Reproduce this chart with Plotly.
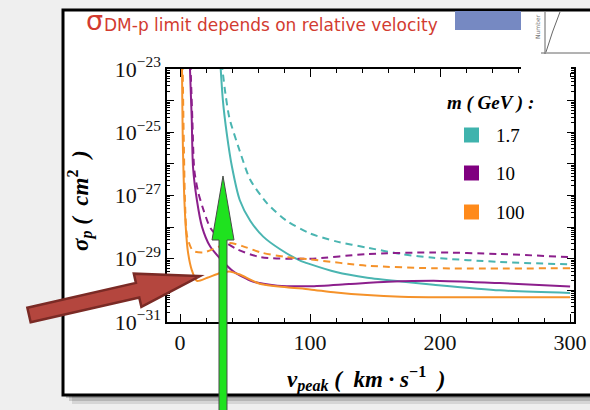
import numpy as np
import plotly.graph_objects as go

# ---------------- data ----------------
# v_peak in km/s, sigma exponents (log10 of cm^2)
teal_solid_v   = [31, 33, 36, 40, 46, 54, 64, 77, 92, 100, 120, 144, 170, 195, 246, 300]
teal_solid_lg  = [-22.8, -24.0, -25.05, -26.1, -27.15, -27.8, -28.3, -28.7, -29.05, -29.17, -29.42, -29.6, -29.72, -29.82, -30.0, -30.08]
teal_dash_v    = [32, 35, 38, 46, 54, 67, 82, 100, 120, 144, 170, 195, 246, 300]
teal_dash_lg   = [-22.8, -23.8, -24.55, -25.6, -26.5, -27.25, -27.8, -28.2, -28.45, -28.65, -28.85, -28.97, -29.1, -29.18]
purple_solid_v  = [7.5, 9, 10, 13, 17, 23, 31, 41, 56, 75, 100, 130, 160, 200, 246, 300]
purple_solid_lg = [-22.8, -24.55, -26.1, -27.15, -28.0, -28.6, -29.0, -29.4, -29.72, -29.85, -29.87, -29.8, -29.73, -29.7, -29.77, -29.88]
purple_dash_v   = [8, 9.5, 11, 14, 18, 23, 29, 44, 62, 100, 144, 195, 246, 300]
purple_dash_lg  = [-22.8, -24.6, -26.2, -26.9, -27.45, -28.0, -28.3, -28.7, -28.95, -29.0, -28.85, -28.8, -28.85, -28.95]
orange_solid_v  = [1.5, 2.3, 4, 6, 9, 13, 21, 31, 38, 46, 62, 82, 100, 120, 144, 170, 200, 300]
orange_solid_lg = [-22.8, -25.6, -27.7, -28.75, -29.35, -29.7, -29.6, -29.45, -29.4, -29.5, -29.8, -29.9, -29.97, -30.07, -30.15, -30.2, -30.22, -30.22]
orange_dash_v   = [2.0, 3.0, 4.0, 5.5, 10, 18, 28, 38, 48, 62, 82, 100, 144, 195, 300]
orange_dash_lg  = [-22.8, -25.5, -27.4, -28.3, -28.75, -28.8, -28.65, -28.5, -28.6, -28.8, -28.95, -29.02, -29.22, -29.3, -29.3]

masses = ["1.7", "10", "100"]
line_colors = ["#4ab5b1", "#8c1f8c", "#f5922a"]
legend_colors = ["#3fb3ad", "#800080", "#ff8a1a"]

x_ticks = [0, 100, 200, 300]
y_label_decades = [-31, -29, -27, -25, -23]
y_other_decades = [-30, -28, -26, -24]

# ---------------- figure geometry ----------------
W, H = 590, 410
PX0, PX1, PY0, PY1 = 167, 574, 69, 322   # plot area in pixels


def P(x, y):
    return (x - PX0) / (PX1 - PX0), (PY1 - y) / (PY1 - PY0)


def path(points):
    s = ""
    for i, (x, y) in enumerate(points):
        px, py = P(x, y)
        s += ("M" if i == 0 else "L") + f"{px:.5f},{py:.5f} "
    return s + "Z"


fig = go.Figure()

series = [
    (teal_solid_v, teal_solid_lg, 0, "solid"),
    (teal_dash_v, teal_dash_lg, 0, "dash"),
    (purple_solid_v, purple_solid_lg, 1, "solid"),
    (purple_dash_v, purple_dash_lg, 1, "dash"),
    (orange_solid_v, orange_solid_lg, 2, "solid"),
    (orange_dash_v, orange_dash_lg, 2, "dash"),
]
for v, lg, ci, ds in series:
    fig.add_trace(go.Scatter(
        x=v, y=10.0 ** np.array(lg), mode="lines",
        line=dict(color=line_colors[ci], width=2,
                  dash="7px,5px" if ds == "dash" else "solid",
                  shape="spline", smoothing=0.7),
        showlegend=False, hoverinfo="skip"))

# invisible trace on the second y axis (unlabelled decade ticks)
fig.add_trace(go.Scatter(x=[0], y=[1e-27], yaxis="y2", mode="markers",
                         marker=dict(opacity=0), showlegend=False, hoverinfo="skip"))

shapes = []
# slide background shadow + frame
for off, col in [(9, "rgba(0,0,0,0.10)"), (6, "rgba(0,0,0,0.15)"), (3, "rgba(0,0,0,0.2)")]:
    x0, y0 = P(63 + off, 10 + off)
    x1, y1 = P(600, 395 + off)
    shapes.append(dict(type="rect", xref="paper", yref="paper", x0=x0, y0=y0, x1=x1, y1=y1,
                       fillcolor=col, line=dict(width=0), layer="below"))
x0, y0 = P(63, 10)
x1, y1 = P(600, 395)
shapes.append(dict(type="rect", xref="paper", yref="paper", x0=x0, y0=y0, x1=x1, y1=y1,
                   fillcolor="white", line=dict(color="black", width=3), layer="below"))
# blue rectangle near the title
x0, y0 = P(455, 11)
x1, y1 = P(521, 30)
shapes.append(dict(type="rect", xref="paper", yref="paper", x0=x0, y0=y0, x1=x1, y1=y1,
                   fillcolor="#7689c2", line=dict(width=0), layer="above"))
# white overlay of an inset picture (top right)
for (a, b, c, d) in [(521, 12, 571, 73), (571, 12, 592, 60)]:
    x0, y0 = P(a, b)
    x1, y1 = P(c, d)
    shapes.append(dict(type="rect", xref="paper", yref="paper", x0=x0, y0=y0, x1=x1, y1=y1,
                       fillcolor="white", line=dict(width=0), layer="above"))
# inset axes & curve
for (a, b, c, d) in [(545, 12, 545, 54), (541, 53, 592, 53)]:
    x0, y0 = P(a, b)
    x1, y1 = P(c, d)
    shapes.append(dict(type="line", xref="paper", yref="paper", x0=x0, y0=y0, x1=x1, y1=y1,
                       line=dict(color="#666666", width=1), layer="above"))
qa, qb, qc = P(546, 52), P(552, 32), P(560, 12)
shapes.append(dict(type="path", xref="paper", yref="paper",
                   path=f"M{qa[0]:.5f},{qa[1]:.5f} Q{qb[0]:.5f},{qb[1]:.5f} {qc[0]:.5f},{qc[1]:.5f}",
                   line=dict(color="#666666", width=1), layer="above"))

# legend squares
leg_y = [135, 173, 212]
for yy, col in zip(leg_y, legend_colors):
    x0, y0 = P(464, yy - 7.5)
    x1, y1 = P(479, yy + 7.5)
    shapes.append(dict(type="rect", xref="paper", yref="paper", x0=x0, y0=y0, x1=x1, y1=y1,
                       fillcolor=col, line=dict(width=0), layer="above"))

# red arrow
T = np.array([29.0, 315.0]); Hd = np.array([200.0, 276.0])
d = (Hd - T) / np.linalg.norm(Hd - T)
n = np.array([-d[1], d[0]])
B = Hd - d * 64
w, hw = 7.5, 17
pts = [T + n * w, B + n * w, B + n * hw, Hd, B - n * hw, B - n * w, T - n * w]
shapes.append(dict(type="path", xref="paper", yref="paper", path=path(pts),
                   fillcolor="#b4463e", line=dict(color="#7a2a25", width=2.5), layer="above"))

# green arrow
gpts = [(219, 415), (219, 240), (212, 240), (223, 176), (234, 240), (227, 240), (227, 415)]
shapes.append(dict(type="path", xref="paper", yref="paper", path=path(gpts),
                   fillcolor="#1fe21f", line=dict(color="#4a4a4a", width=1), layer="above"))

annotations = []


def ann(text, x, y, size, xanchor="center", yanchor="middle", color="black",
        family="Liberation Serif", angle=0):
    px, py = P(x, y)
    annotations.append(dict(text=text, x=px, y=py, xref="paper", yref="paper",
                            xanchor=xanchor, yanchor=yanchor, showarrow=False,
                            textangle=angle, font=dict(size=size, color=color, family=family)))


# title
ann("σ", 84, 20, 27, xanchor="left", color="#d23b30", family="DejaVu Sans")
ann("DM-p limit depends on relative velocity", 102, 25, 17, xanchor="left",
    color="#d23b30", family="DejaVu Sans")
ann("Number", 537, 27, 6, color="#777777", family="DejaVu Sans", angle=-90)

# axis titles
ann("<b><i>σ</i><sub><i>p</i></sub><i> (  cm</i><sup>2</sup><i>  )</i></b>", 80, 201, 23, angle=-90)
ann("<b><i>v</i><sub><i>peak</i></sub><i> (  km · s</i><sup>−1</sup><i>  )</i></b>", 366, 379, 23)

# legend texts
ann("<b><i>m ( GeV ) :</i></b>", 445, 103, 19, xanchor="left")
for yy, m in zip(leg_y, masses):
    ann(m, 494, yy, 19, xanchor="left")

fig.update_layout(
    width=W, height=H,
    margin=dict(l=PX0, r=W - PX1, t=PY0, b=H - PY1, pad=0),
    paper_bgcolor="#efefef", plot_bgcolor="white",
    shapes=shapes, annotations=annotations,
    showlegend=False,
    xaxis=dict(
        range=[-10, 303], tickvals=x_ticks, ticktext=[str(t) for t in x_ticks],
        ticks="inside", ticklen=8, tickwidth=1.2, tickcolor="black",
        showline=True, linecolor="black", linewidth=1.5, mirror="ticks",
        showgrid=False, zeroline=False, automargin=False,
        tickfont=dict(family="Liberation Serif", size=22, color="#111111"),
        minor=dict(dtick=20, tick0=0, ticks="inside", ticklen=4, tickcolor="black", showgrid=False),
    ),
    yaxis=dict(
        type="log", range=[-31, -23],
        tickvals=[10.0 ** e for e in y_label_decades],
        ticktext=[f"10<sup>−{-e}</sup>" for e in y_label_decades],
        ticks="inside", ticklen=7, tickwidth=1.2, tickcolor="black",
        showline=True, linecolor="black", linewidth=1.5, mirror="ticks",
        showgrid=False, zeroline=False, automargin=False,
        tickfont=dict(family="Liberation Serif", size=22, color="#111111"),
        minor=dict(dtick="D1", ticks="inside", ticklen=3.5, tickcolor="black", showgrid=False),
    ),
    yaxis2=dict(
        type="log", range=[-31, -23], overlaying="y", side="left",
        tickvals=[10.0 ** e for e in y_other_decades],
        showticklabels=False,
        ticks="inside", ticklen=7, tickwidth=1.2, tickcolor="black",
        showline=False, mirror="ticks", showgrid=False, zeroline=False, automargin=False,
    ),
)

fig.write_html("out.html")
